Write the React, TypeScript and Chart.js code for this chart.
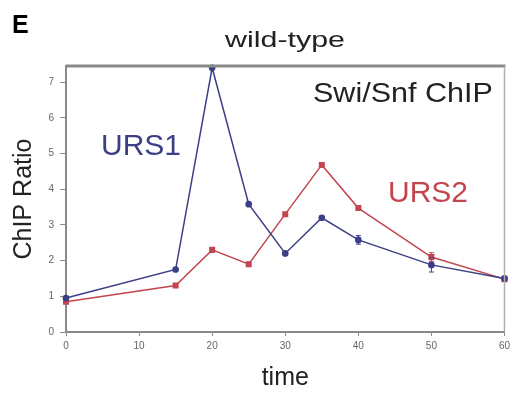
import React, { useEffect, useRef } from "react";
import { Chart, registerables } from "chart.js";

Chart.register(...registerables);

const times = [0, 15, 20, 25, 30, 35, 40, 50, 60];
const urs1 = [0.95, 1.75, 7.4, 3.58, 2.2, 3.2, 2.58, 1.88, 1.5];
const urs2 = [0.85, 1.3, 2.3, 1.9, 3.3, 4.68, 3.47, 2.1, 1.48];
const urs1Err = [0, 0, 0, 0, 0, 0, 0.12, 0.2, 0];
const urs2Err = [0, 0, 0, 0, 0, 0, 0, 0.12, 0];
const yTicks = [0, 1, 2, 3, 4, 5, 6, 7];
const xTicks = [0, 10, 20, 30, 40, 50, 60];

const BLUE = "#3b3f86";
const RED = "#c2454f";
const FONT = "'Liberation Sans', Arial, sans-serif";

function stretchText(ctx: any, text: string, cx: number, y: number, sx: number, align: string) {
  ctx.save();
  ctx.translate(cx, y);
  ctx.scale(sx, 1);
  ctx.textAlign = align;
  ctx.fillText(text, 0, 0);
  ctx.restore();
}

const decorPlugin = {
  id: "decor",
  afterDatasetsDraw(chart: any) {
    const { ctx, scales } = chart;
    const xs = scales.x;
    const ys = scales.y;
    ctx.save();
    const drawErr = (vals: number[], errs: number[], color: string) => {
      ctx.strokeStyle = color;
      ctx.lineWidth = 1;
      vals.forEach((v, i) => {
        const e = errs[i];
        if (!e) return;
        const px = xs.getPixelForValue(times[i]);
        const y1 = ys.getPixelForValue(v + e);
        const y2 = ys.getPixelForValue(v - e);
        ctx.beginPath();
        ctx.moveTo(px, y1);
        ctx.lineTo(px, y2);
        ctx.moveTo(px - 2.5, y1);
        ctx.lineTo(px + 2.5, y1);
        ctx.moveTo(px - 2.5, y2);
        ctx.lineTo(px + 2.5, y2);
        ctx.stroke();
      });
    };
    drawErr(urs1, urs1Err, BLUE);
    drawErr(urs2, urs2Err, RED);
    ctx.restore();
  },
  afterDraw(chart: any) {
    const { ctx, chartArea } = chart;
    ctx.save();
    ctx.strokeStyle = "#8a8a8a";
    ctx.lineWidth = 3;
    ctx.beginPath();
    ctx.moveTo(chartArea.left, chartArea.top);
    ctx.lineTo(chartArea.right + 1, chartArea.top);
    ctx.stroke();
    ctx.lineWidth = 1.5;
    ctx.strokeStyle = "#b0b0b0";
    ctx.beginPath();
    ctx.moveTo(chartArea.right, chartArea.top);
    ctx.lineTo(chartArea.right, chartArea.bottom);
    ctx.stroke();

    ctx.textBaseline = "alphabetic";
    ctx.fillStyle = "#000";
    ctx.textAlign = "left";
    ctx.font = `bold 25px ${FONT}`;
    ctx.fillText("E", 12, 33);

    ctx.fillStyle = "#222";
    ctx.font = `22px ${FONT}`;
    stretchText(ctx, "wild-type", 285, 47, 1.38, "center");

    ctx.font = `28px ${FONT}`;
    ctx.fillStyle = "#222";
    stretchText(ctx, "Swi/Snf ChIP", 313, 102, 1.09, "left");

    ctx.textAlign = "left";
    ctx.font = `30px ${FONT}`;
    ctx.fillStyle = BLUE;
    ctx.fillText("URS1", 101, 155);
    ctx.fillStyle = RED;
    ctx.fillText("URS2", 388, 202);
    ctx.restore();
  },
};

export default function App() {
  const ref = useRef<HTMLCanvasElement | null>(null);
  useEffect(() => {
    if (!ref.current) return;
    const chart = new Chart(ref.current, {
      type: "line",
      data: {
        datasets: [
          {
            label: "URS1",
            data: times.map((t, i) => ({ x: t, y: urs1[i] })),
            borderColor: BLUE,
            backgroundColor: BLUE,
            borderWidth: 1.5,
            pointRadius: 2.6,
            pointStyle: "circle",
            clip: false as any,
            order: 1,
          },
          {
            label: "URS2",
            data: times.map((t, i) => ({ x: t, y: urs2[i] })),
            borderColor: RED,
            backgroundColor: RED,
            borderWidth: 1.5,
            pointRadius: 3.2,
            pointStyle: "rect",
            clip: false as any,
            order: 2,
          },
        ],
      },
      options: {
        animation: false,
        responsive: false,
        layout: { padding: { top: 66, right: 5, left: 0, bottom: 0 } },
        plugins: {
          legend: { display: false },
          tooltip: { enabled: false },
        },
        scales: {
          x: {
            type: "linear",
            min: 0,
            max: 60,
            afterFit: (s: any) => {
              s.height = 62;
              s.paddingLeft = 0;
              s.paddingRight = 0;
            },
            afterBuildTicks: (s: any) => {
              s.ticks = xTicks.map((v) => ({ value: v }));
            },
            grid: {
              drawOnChartArea: false,
              tickLength: 4,
              color: "#8a8a8a",
            },
            border: { color: "#8a8a8a", width: 2 },
            ticks: {
              font: { family: FONT, size: 10 },
              color: "#666",
              padding: 4,
              maxRotation: 0,
            },
            title: {
              display: true,
              text: "time",
              font: { family: FONT, size: 25 },
              color: "#222",
              padding: { top: 0, bottom: 1 },
            },
          },
          y: {
            type: "linear",
            min: 0,
            max: 7.45,
            afterFit: (s: any) => {
              s.width = 66;
              s.paddingTop = 0;
              s.paddingBottom = 0;
            },
            afterBuildTicks: (s: any) => {
              s.ticks = yTicks.map((v) => ({ value: v }));
            },
            grid: {
              drawOnChartArea: false,
              tickLength: 6,
              color: "#8a8a8a",
            },
            border: { color: "#8a8a8a", width: 2 },
            ticks: {
              font: { family: FONT, size: 10 },
              color: "#666",
              padding: 6,
            },
            title: {
              display: true,
              text: "ChIP Ratio",
              font: { family: FONT, size: 25 },
              color: "#222",
              padding: { top: 9, bottom: 0 },
            },
          },
        },
      },
      plugins: [decorPlugin],
    });
    return () => chart.destroy();
  }, []);
  return (
    <canvas
      ref={ref}
      width={510}
      height={394}
      style={{ position: "absolute", left: 0, top: 0, width: 510, height: 394 }}
    />
  );
}
